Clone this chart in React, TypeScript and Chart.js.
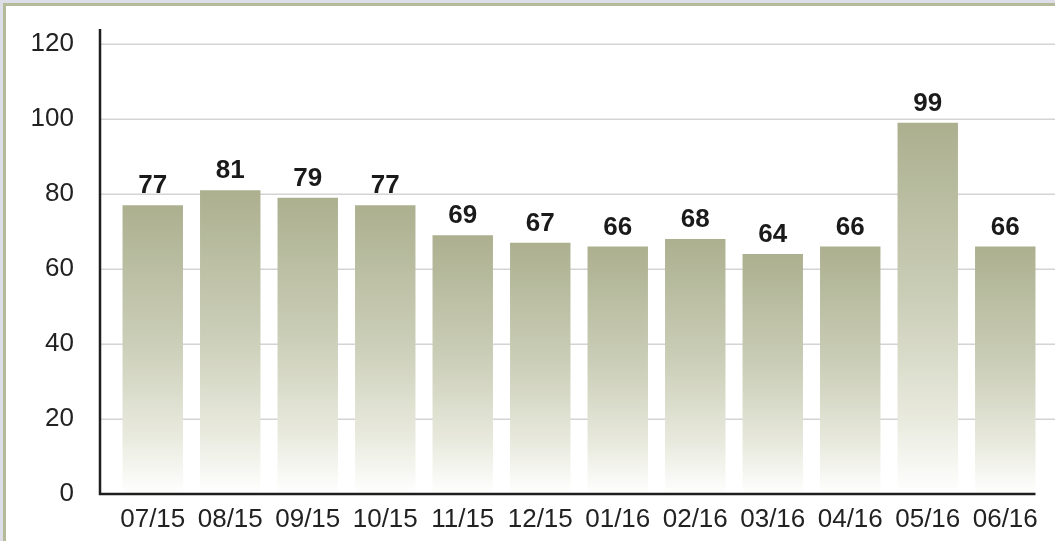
import React, { useEffect, useRef } from "react";
import { Chart, registerables } from "chart.js";

Chart.register(...registerables);

const categories = ["07/15", "08/15", "09/15", "10/15", "11/15", "12/15", "01/16", "02/16", "03/16", "04/16", "05/16", "06/16"];
const values = [77, 81, 79, 77, 69, 67, 66, 68, 64, 66, 99, 66];
const yTicks = [0, 20, 40, 60, 80, 100, 120];

const FONT = "'Liberation Sans', Arial, Helvetica, sans-serif";

const decorPlugin = {
  id: "decor",
  beforeDatasetsDraw(chart: any) {
    const { ctx, chartArea, scales } = chart;
    const y = scales.y;
    const axisX = chartArea.left - 14;
    ctx.save();
    ctx.strokeStyle = "#d4d4d4";
    ctx.lineWidth = 1.6;
    yTicks.forEach((t) => {
      if (t === 0) return;
      const py = Math.round(y.getPixelForValue(t)) + 0.25;
      ctx.beginPath();
      ctx.moveTo(axisX, py);
      ctx.lineTo(chart.width, py);
      ctx.stroke();
    });
    ctx.restore();
  },
  afterDatasetsDraw(chart: any) {
    const { ctx, chartArea, scales } = chart;
    const y = scales.y;
    const meta = chart.getDatasetMeta(0);
    const axisX = chartArea.left - 14;
    const last = meta.data[meta.data.length - 1];
    const axisRight = last.x + last.width / 2;
    const base = y.getPixelForValue(0);
    ctx.save();
    ctx.strokeStyle = "#1e1e1e";
    ctx.lineWidth = 2.5;
    ctx.beginPath();
    ctx.moveTo(axisX, chartArea.top);
    ctx.lineTo(axisX, base);
    ctx.lineTo(axisRight, base);
    ctx.stroke();
    // data labels
    ctx.fillStyle = "#1a1a1a";
    ctx.font = "bold 26px " + FONT;
    ctx.textAlign = "center";
    ctx.textBaseline = "alphabetic";
    meta.data.forEach((bar: any, i: number) => {
      ctx.fillText(String(values[i]), bar.x, bar.y - 12);
    });
    ctx.restore();
  },
};

export default function App() {
  const ref = useRef<HTMLCanvasElement>(null);
  useEffect(() => {
    if (!ref.current) return;
    const chart = new Chart(ref.current, {
      type: "bar",
      data: {
        labels: categories,
        datasets: [
          {
            data: values,
            borderWidth: 0,
            categoryPercentage: 1,
            barPercentage: 0.78,
            backgroundColor: (c: any) => {
              const ch = c.chart;
              const ys = ch.scales?.y;
              if (!ys || !ch.chartArea || c.dataIndex === undefined) return "#b0b394";
              const top = ys.getPixelForValue(values[c.dataIndex]);
              const bottom = ys.getPixelForValue(0);
              const g = ch.ctx.createLinearGradient(0, top, 0, bottom);
              g.addColorStop(0, "#acb08f");
              g.addColorStop(0.5, "#cdd0ba");
              g.addColorStop(0.8, "#e9eade");
              g.addColorStop(1, "#ffffff");
              return g;
            },
          },
        ],
      },
      options: {
        responsive: false,
        animation: false,
        devicePixelRatio: 1,
        layout: { padding: { left: 0, right: 11, top: 29, bottom: 0 } },
        plugins: { legend: { display: false }, tooltip: { enabled: false } },
        scales: {
          x: {
            grid: { display: false, drawTicks: false },
            border: { display: false },
            ticks: {
              color: "#222",
              font: { family: FONT, size: 26 },
              padding: 10,
              maxRotation: 0,
              autoSkip: false,
            },
            afterFit: (s: any) => {
              s.height = 47;
              s.paddingLeft = 0;
              s.paddingRight = 0;
            },
          },
          y: {
            min: 0,
            max: 124,
            grid: { display: false, drawTicks: false },
            border: { display: false },
            afterBuildTicks: (s: any) => {
              s.ticks = yTicks.map((v) => ({ value: v }));
            },
            ticks: {
              color: "#222",
              font: { family: FONT, size: 26 },
              padding: 40,
            },
            afterFit: (s: any) => {
              s.width = 114;
              s.paddingTop = 0;
              s.paddingBottom = 0;
            },
          },
        },
      },
      plugins: [decorPlugin],
    });
    return () => chart.destroy();
  }, []);
  return (
    <div style={{ position: "fixed", left: 0, top: 0, width: 1055, height: 541, background: "#dedee8", overflow: "hidden" }}>
      <div
        style={{
          position: "absolute",
          left: 3,
          top: 3,
          width: 1100,
          height: 600,
          background: "#ffffff",
          borderLeft: "3px solid #b5ba9a",
          borderTop: "3px solid #b5ba9a",
        }}
      />
      <canvas ref={ref} width={1055} height={541} style={{ position: "absolute", left: 0, top: 0, width: 1055, height: 541 }} />
    </div>
  );
}
